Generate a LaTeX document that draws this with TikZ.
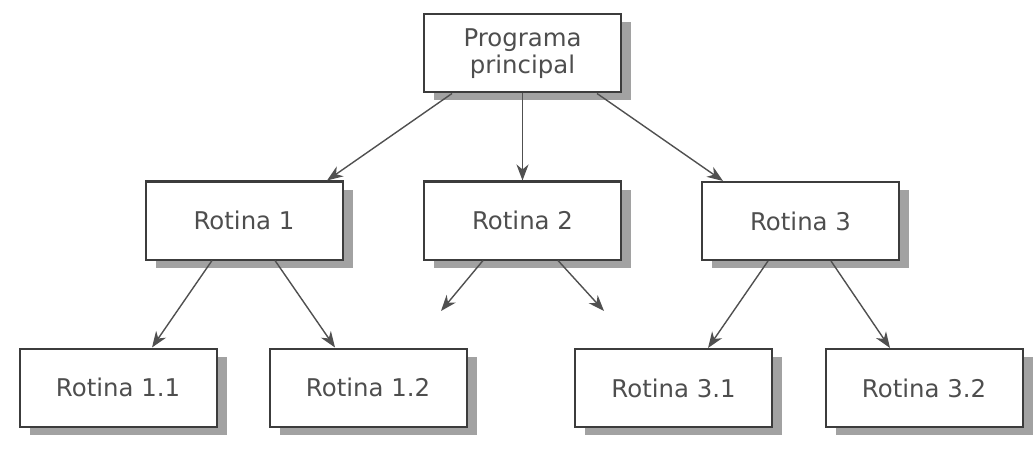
\documentclass[tikz,border=0pt]{standalone}
\usepackage{fontspec}
\setmainfont{DejaVu Sans}
\usetikzlibrary{arrows.meta,shadows}
\definecolor{boxgray}{HTML}{3C3C3C}
\definecolor{linegray}{HTML}{505050}
\definecolor{textgray}{HTML}{4E4E4E}
\definecolor{shadowgray}{HTML}{A2A2A2}
\begin{document}
\begin{tikzpicture}[x=0.5pt,y=0.5pt,
		rotbox/.style={draw=boxgray, line width=1pt, fill=white, minimum width=98.5pt,
			minimum height=39pt, inner sep=0pt, text=textgray, align=center,
			font=\fontsize{12.2}{13.5}\selectfont,
			drop shadow={shadow xshift=5pt, shadow yshift=-4pt, fill=shadowgray, opacity=1}},
		link/.style={draw=linegray, line width=0.7pt, -{Stealth[length=8pt,width=6pt,inset=2.5pt]}}]
		\useasboundingbox (0,0) rectangle (1036,-454);
		% boxes
		\node [rotbox] (prog) at (522.5,-53.5) {Programa\\principal};
		\node [rotbox] (r1) at (244,-220.5) {Rotina 1};
		\node [rotbox] (r2) at (522.5,-220.5) {Rotina 2};
		\node [rotbox] (r3) at (800.5,-221) {Rotina 3};
		\node [rotbox] (r11) at (118,-387.5) {Rotina 1.1};
		\node [rotbox] (r12) at (368,-387.5) {Rotina 1.2};
		\node [rotbox] (r31) at (673.5,-388) {Rotina 3.1};
		\node [rotbox] (r32) at (924,-388) {Rotina 3.2};
		\coordinate (r2a) at (441,-311);
		\coordinate (r2b) at (604,-311);
		% arrows
		\draw [link] ([xshift=-35.25pt]prog.south) -- ([xshift=41.5pt]r1.north);
		\draw [link] (prog.south) -- (r2.north);
		\draw [link] ([xshift=37.25pt]prog.south) -- ([xshift=-38.75pt]r3.north);
		\draw [link] ([xshift=-16pt]r1.south) -- ([xshift=17pt]r11.north);
		\draw [link] ([xshift=15.5pt]r1.south) -- ([xshift=-16.5pt]r12.north);
		\draw [link] ([xshift=-19.75pt]r2.south) -- (r2a);
		\draw [link] ([xshift=17.75pt]r2.south) -- (r2b);
		\draw [link] ([xshift=-16.25pt]r3.south) -- ([xshift=17.25pt]r31.north);
		\draw [link] ([xshift=15.25pt]r3.south) -- ([xshift=-17pt]r32.north);
\end{tikzpicture}
\end{document}
